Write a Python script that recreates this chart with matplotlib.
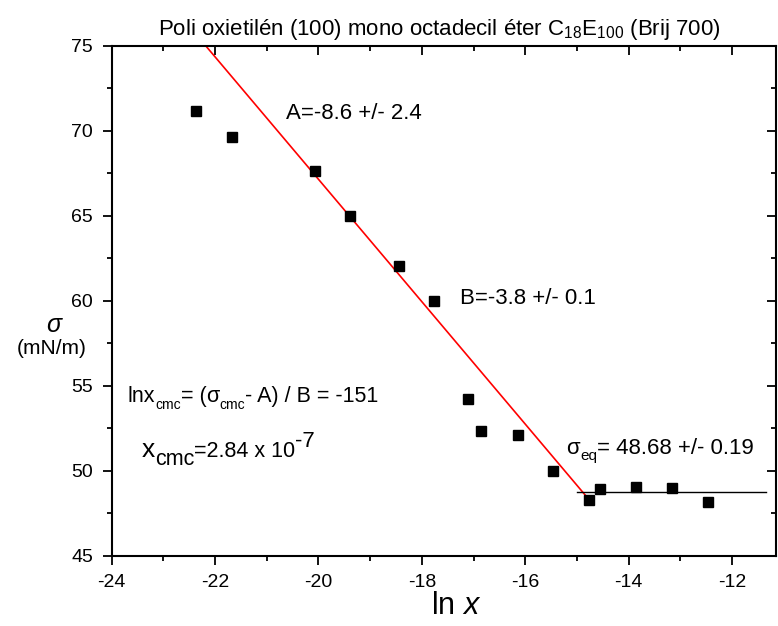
import matplotlib
matplotlib.use("Agg")
import matplotlib.pyplot as plt
import numpy as np
from matplotlib.ticker import MultipleLocator
from matplotlib.transforms import IdentityTransform

plt.rcParams['font.family'] = ['Liberation Sans', 'DejaVu Sans']
plt.rcParams['mathtext.fontset'] = 'custom'
plt.rcParams['mathtext.rm'] = 'Liberation Sans'
plt.rcParams['mathtext.it'] = 'Liberation Sans:italic'
plt.rcParams['mathtext.default'] = 'regular'

# data
lnx = [-22.37, -21.68, -20.07, -19.40, -18.45, -17.77, -17.10, -16.86,
       -16.15, -15.47, -14.76, -14.55, -13.85, -13.16, -12.46]
sigma = [71.14, 69.65, 67.65, 65.00, 62.04, 60.00, 54.20, 52.35,
         52.10, 49.98, 48.29, 48.93, 49.06, 48.96, 48.18]

# drawn fit line (red) and plateau line (black)
fit_A = -4.86
fit_B = -3.60
fit_x = [-22.6, -14.77]
eq_sigma = 48.72
eq_x = [-15.0, -11.35]

xticks = [-24, -22, -20, -18, -16, -14, -12]
yticks = [45, 50, 55, 60, 65, 70, 75]

fig = plt.figure(figsize=(7.78, 6.26), dpi=100)
ax = fig.add_axes([0.1436, 0.1123, 0.8538, 0.8147])

fx = np.array(fit_x)
ax.plot(fx, fit_A + fit_B * fx, color='red', lw=1.2, zorder=2)
ax.plot(eq_x, [eq_sigma, eq_sigma], color='black', lw=1.0, zorder=2)
ax.plot(lnx, sigma, 's', color='black', ms=7.5, zorder=3)

ax.set_xlim(-24, -11.15)
ax.set_ylim(45, 75)
ax.set_xticks(xticks)
ax.set_yticks(yticks)
ax.set_xticklabels([str(t) for t in xticks])
ax.set_yticklabels([str(t) for t in yticks])
ax.xaxis.set_minor_locator(MultipleLocator(1))
ax.yaxis.set_minor_locator(MultipleLocator(2.5))

for s in ax.spines.values():
    s.set_linewidth(1.5)

ax.tick_params(which='both', direction='out', labelsize=14, width=1.3, pad=7)
ax.tick_params(which='major', length=6.5)
ax.tick_params(which='minor', length=3.5)
ax.tick_params(which='both', top=True, right=True)

# top/right ticks inward
for t in ax.xaxis.get_major_ticks() + ax.xaxis.get_minor_ticks():
    t.tick2line.set_marker(matplotlib.lines.TICKDOWN)
for t in ax.yaxis.get_major_ticks() + ax.yaxis.get_minor_ticks():
    t.tick2line.set_marker(matplotlib.lines.TICKLEFT)

fig.text(439/778, 1 - 30/626,
         r'Poli oxietilén (100) mono octadecil éter C$_{18}$E$_{100}$ (Brij 700)',
         ha='center', va='center', fontsize=16)

fig.text(55/778, 1 - 325/626, r'$\mathit{σ}$', ha='center', va='center', fontsize=18)
fig.text(52/778, 1 - 348/626, '(mN/m)', ha='center', va='center', fontsize=15)
fig.text(456/778, 1 - 614/626, r'ln $\mathit{x}$', ha='center', va='baseline', fontsize=22)

renderer = fig.canvas.get_renderer()


def rich(xd, yd, pieces):
    """Place text pieces one after another from a data-coordinate baseline start."""
    x0, y0 = ax.transData.transform((xd, yd))
    cur = x0
    for s, size, dy in pieces:
        t = fig.text(cur, y0 + dy, s, transform=IdentityTransform(),
                     fontsize=size, ha='left', va='baseline')
        cur = t.get_window_extent(renderer).x1


fs = 16
ax.text(-20.62, 70.67, 'A=-8.6 +/- 2.4', ha='left', va='baseline', fontsize=fs)
ax.text(-17.26, 59.81, 'B=-3.8 +/- 0.1', ha='left', va='baseline', fontsize=fs)
rich(-15.20, 50.96, [('σ', 16, 0), ('eq', 11, -6), ('= 48.68 +/- 0.19', 16, 0)])
rich(-23.69, 54.06, [('lnx', 15.5, 0), ('cmc', 10, -7), ('= (', 15.5, 0),
                     ('σ', 15.5, 0), ('cmc', 10, -7), ('- A) / B = -151', 15.5, 0)])
rich(-23.42, 50.82, [('x', 19, 0), ('cmc', 15.5, -8), ('=2.84 x 10', 15.5, 0),
                     ('-7', 16, 10)])

fig.savefig('out.png', dpi=100)
